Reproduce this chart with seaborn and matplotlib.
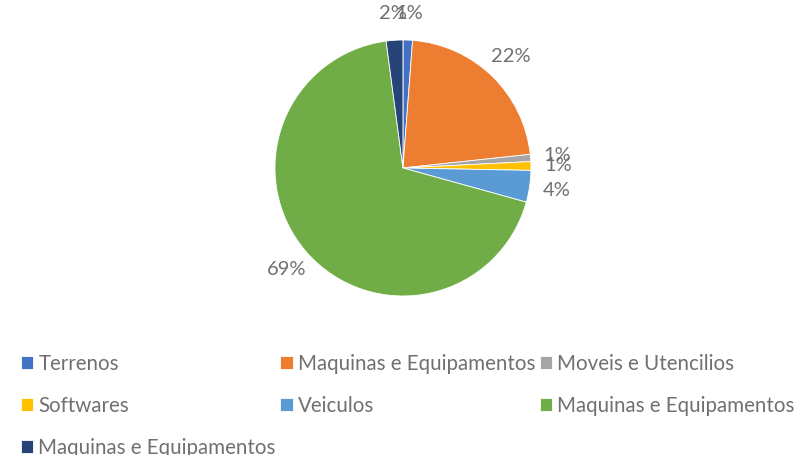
import matplotlib
matplotlib.use("Agg")
import matplotlib.pyplot as plt
import seaborn as sns

categorias = ["Terrenos", "Maquinas e Equipamentos", "Moveis e Utencilios",
              "Softwares", "Veiculos", "Maquinas e Equipamentos",
              "Maquinas e Equipamentos"]
valores = [1.2, 22.1, 0.9, 1.1, 4.0, 68.6, 2.1]
cores = ["#4472C4", "#ED7D31", "#A5A5A5", "#FFC000", "#5B9BD5", "#70AD47", "#264478"]

sns.set_theme(style="white")
plt.rcParams["font.family"] = ["Lato", "DejaVu Sans"]
texto = "#707070"

fig = plt.figure(figsize=(7.94, 4.55), dpi=100)
ax = fig.add_axes([0.3463, 0.3495, 0.3224, 0.5626])

wedges, _, pcts = ax.pie(valores, colors=cores, startangle=90, counterclock=False,
                         autopct=lambda p: f"{p:.0f}%", pctdistance=1.21,
                         wedgeprops=dict(linewidth=0.6, edgecolor="white"),
                         textprops=dict(color=texto, fontsize=14.5))
ax.set_xlim(-1, 1)
ax.set_ylim(-1, 1)
ax.set_aspect("equal")
ax.axis("off")

# ordem linha a linha como no Excel
ordem = [0, 3, 6, 1, 4, 2, 5]
leg = fig.legend([wedges[i] for i in ordem], [categorias[i] for i in ordem],
                 ncol=3, loc="upper left", bbox_to_anchor=(0.0264, 0.222),
                 frameon=False, fontsize=14.8, handlelength=0.6, handleheight=0.6,
                 handletextpad=0.25, columnspacing=0.22, labelspacing=1.06,
                 borderpad=0, borderaxespad=0, labelcolor=texto)

fig.savefig("out.png", dpi=100)
